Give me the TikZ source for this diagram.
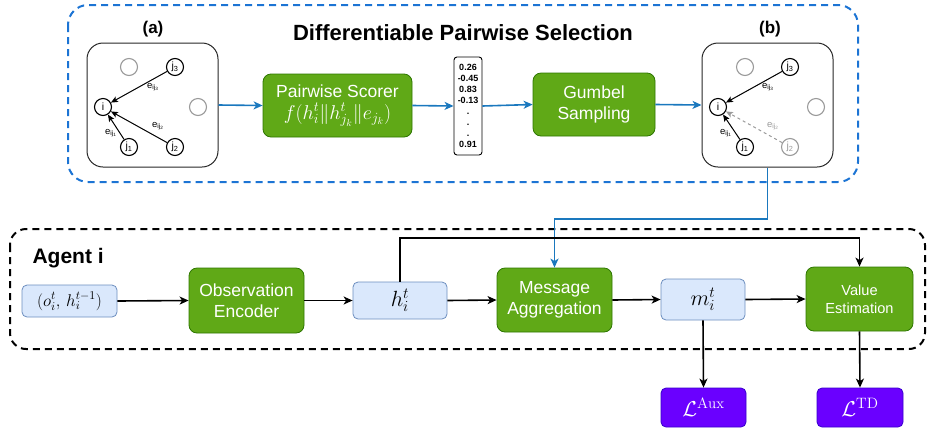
\RequirePackage{fix-cm}
\documentclass[tikz,border=0pt]{standalone}
\usepackage[no-math]{fontspec}
\setmainfont{Liberation Sans}
\usetikzlibrary{arrows.meta,calc}
\definecolor{greenF}{HTML}{60A917}
\definecolor{greenS}{HTML}{2D7600}
\definecolor{blueF}{HTML}{DAE8FC}
\definecolor{blueS}{HTML}{6C8EBF}
\definecolor{purpF}{HTML}{6A00FF}
\definecolor{purpS}{HTML}{3700CC}
\definecolor{arrowblue}{HTML}{1A78BE}
\definecolor{dashblue}{HTML}{1C74D4}
\definecolor{ghostgray}{HTML}{9A9A9A}
\begin{document}
\begin{tikzpicture}[x=1pt,y=-1pt,
  greenbox/.style={draw=greenS, fill=greenF, rounded corners=8pt, text=white, align=center, line width=0.8pt, inner sep=0pt, font=\fontsize{17.5}{21}\selectfont},
  bluebox/.style={draw=blueS, fill=blueF, rounded corners=5pt, line width=0.8pt, inner sep=0pt},
  purpbox/.style={draw=purpS, fill=purpF, rounded corners=5pt, line width=0.8pt, inner sep=0pt, text=white},
  panel/.style={draw=black!85, rounded corners=16pt, line width=1pt},
  gnode/.style={circle, draw, line width=1.1pt, minimum size=17pt, inner sep=0pt, font=\fontsize{10.5}{10.5}\selectfont},
  ghost/.style={gnode, draw=ghostgray, text=ghostgray},
  elabel/.style={font=\fontsize{9.5}{9.5}\selectfont, inner sep=0pt},
  barr/.style={draw=arrowblue, line width=1.6pt, -{Stealth[length=9pt,width=8pt,inset=2.5pt]}},
  karr/.style={draw=black, line width=1.6pt, -{Stealth[length=9pt,width=8pt,inset=2.5pt]}},
  earr/.style={line width=1pt, -{Stealth[length=7pt,width=6pt,inset=1.5pt]}}
]
\useasboundingbox (0,0) rectangle (928,432);

% container boxes
\draw[dashblue, line width=2pt, dash pattern=on 7pt off 5pt, rounded corners=20pt] (68,5) rectangle (858,182);
\draw[black, line width=2pt, dash pattern=on 7pt off 5pt, rounded corners=16pt] (10,229) rectangle (925,349);

\node[font=\fontsize{22}{24}\selectfont\bfseries] (title) at (463,33) {Differentiable Pairwise Selection};
\node[font=\fontsize{17}{19}\selectfont\bfseries] (labA) at (153,29) {(a)};
\node[font=\fontsize{17}{19}\selectfont\bfseries] (labB) at (770,29) {(b)};
\node[font=\fontsize{21}{23}\selectfont\bfseries, anchor=west] (agent) at (29,258) {Agent i};

% panel (a)
\node[panel, minimum width=131pt, minimum height=124pt] (panelA) at (152.5,105) {};
\node[gnode] (ai) at (103,107) {i};
\node[ghost] (ag1) at (129,67) {};
\node[gnode] (aj3) at (175,67) {j\textsubscript{3}};
\node[ghost] (ag2) at (198,107) {};
\node[gnode] (aj1) at (129,147) {j\textsubscript{1}};
\node[gnode] (aj2) at (175,147) {j\textsubscript{2}};
\draw[earr] (aj3) -- (ai);
\draw[earr] (aj2) -- (ai);
\draw[earr] (aj1) -- (ai);
\node[elabel] (ae3) at (153,87) {e\textsubscript{ij\textsubscript{3}}};
\node[elabel] (ae2) at (158,126) {e\textsubscript{ij\textsubscript{2}}};
\node[elabel] (ae1) at (111,133) {e\textsubscript{ij\textsubscript{1}}};

% panel (b)
\node[panel, minimum width=131pt, minimum height=124pt] (panelB) at (767.5,105) {};
\node[gnode] (bi) at (718,107) {i};
\node[ghost] (bg1) at (745,67) {};
\node[gnode] (bj3) at (790,67) {j\textsubscript{3}};
\node[ghost] (bg2) at (816,107) {};
\node[gnode] (bj1) at (745,147) {j\textsubscript{1}};
\node[ghost] (bj2) at (790,147) {j\textsubscript{2}};
\draw[earr] (bj3) -- (bi);
\draw[earr, draw=ghostgray, dashed] (bj2) -- (bi);
\draw[earr] (bj1) -- (bi);
\node[elabel] (be3) at (768,87) {e\textsubscript{ij\textsubscript{3}}};
\node[elabel, text=ghostgray] (be2) at (773,126) {e\textsubscript{ij\textsubscript{2}}};
\node[elabel] (be1) at (726,133) {e\textsubscript{ij\textsubscript{1}}};

% top row
\node[greenbox, minimum width=149pt, minimum height=63pt] (scorer) at (337.5,105.5)
  {Pairwise Scorer\\[1pt] {\fontsize{20}{21}\selectfont$f(h_i^t \| h_{j_k}^t \| e_{j_k})$}};
\node[draw, rounded corners=3pt, line width=0.9pt, minimum width=28pt, minimum height=98pt, inner sep=0pt, align=center,
  font=\fontsize{9}{11}\selectfont\bfseries] (vec) at (468,106)
  {0.26\\-0.45\\0.83\\-0.13\\.\\.\\.\\0.91};
\node[greenbox, minimum width=122pt, minimum height=63pt] (gumbel) at (594,104.5) {Gumbel\\Sampling};

\draw[barr] (panelA.east) -- (scorer.west);
\draw[barr] (scorer.east) -- (vec.west);
\draw[barr] (vec.east) -- (gumbel.west);
\draw[barr] (gumbel.east) -- (panelB.west);

% agent row
\node[bluebox, minimum width=95pt, minimum height=32pt, font=\fontsize{17}{19}\selectfont] (obs) at (69.5,301) {$(o_i^t,\, h_i^{t-1})$};
\node[greenbox, minimum width=115pt, minimum height=65pt] (enc) at (246.5,300.5) {Observation\\Encoder};
\node[bluebox, minimum width=94pt, minimum height=37pt, font=\fontsize{22}{24}\selectfont] (h) at (400,300.5) {$h_i^t$};
\node[greenbox, minimum width=115pt, minimum height=64pt] (agg) at (554.5,300) {Message\\Aggregation};
\node[bluebox, minimum width=84pt, minimum height=41pt, font=\fontsize{22}{24}\selectfont] (m) at (703,299.5) {$m_i^t$};
\node[greenbox, minimum width=107pt, minimum height=64pt, font=\fontsize{14.6}{18}\selectfont] (val) at (859.5,299) {Value\\Estimation};
\node[purpbox, minimum width=85pt, minimum height=39pt, font=\fontsize{21.5}{23}\selectfont] (laux) at (703.5,407.5) {$\mathcal{L}^{\mathrm{Aux}}$};
\node[purpbox, minimum width=86pt, minimum height=39pt, font=\fontsize{21.5}{23}\selectfont] (ltd) at (860,407.5) {$\mathcal{L}^{\mathrm{TD}}$};

\coordinate (bend) at (554.5,219);
\coordinate (hup) at (400,238);
\draw[barr] (panelB.south) |- (bend) -- (agg.north);

\draw[karr] (obs.east) -- (enc.west);
\draw[karr] (enc.east) -- (h.west);
\draw[karr] (h.east) -- (agg.west);
\draw[karr] (agg.east) -- (m.west);
\draw[karr] (m.east) -- (val.west);
\draw[karr] (h.north) -- (hup) -| (val.north);
\draw[karr] (m.south) -- (laux.north);
\draw[karr] (val.south) -- (ltd.north);
\end{tikzpicture}
\end{document}
